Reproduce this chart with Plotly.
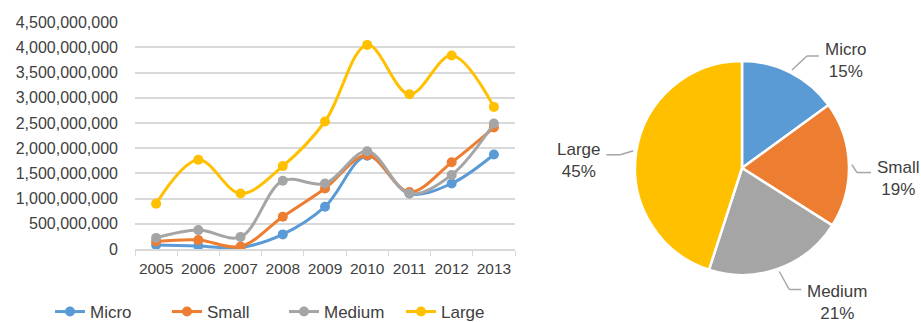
import math
import plotly.graph_objects as go

years = ["2005", "2006", "2007", "2008", "2009", "2010", "2011", "2012", "2013"]
micro = [80e6, 60e6, 30e6, 290e6, 840e6, 1850e6, 1100e6, 1300e6, 1875e6]
small = [150e6, 180e6, 50e6, 640e6, 1200e6, 1860e6, 1130e6, 1720e6, 2410e6]
medium = [220e6, 375e6, 240e6, 1355e6, 1300e6, 1940e6, 1100e6, 1470e6, 2490e6]
large = [900e6, 1770e6, 1100e6, 1645e6, 2530e6, 4050e6, 3070e6, 3840e6, 2820e6]
series_names = ["Micro", "Small", "Medium", "Large"]
pie_labels = ["Micro", "Small", "Medium", "Large"]
pie_share = [15, 19, 21, 45]
colors = ["#5B9BD5", "#ED7D31", "#A5A5A5", "#FFC000"]

W, H = 921, 322
FONT = "Liberation Sans, Arial, sans-serif"
TXT = "#404040"

# leader-line styling per pie label: (diagonal dx, diagonal dy, horizontal length, text dy)
LEADER = {"Micro": (15, -14, 12, 5), "Small": (5, 8, 14, 6),
          "Medium": (10, 18, 12, 13), "Large": (-13, 4, 14, 6)}

fig = go.Figure()
for name, vals, col in zip(series_names, [micro, small, medium, large], colors):
    fig.add_trace(go.Scatter(
        x=years, y=vals, name=name, mode="lines+markers",
        line=dict(color=col, width=3, shape="spline", smoothing=1.0),
        marker=dict(size=10, color=col),
    ))

# Pie geometry (pixels)
PCX, PCY, PR = 742, 168, 107
fig.add_trace(go.Pie(
    labels=pie_labels, values=pie_share, sort=False, direction="clockwise", rotation=0,
    marker=dict(colors=colors, line=dict(color="white", width=2.5)),
    textinfo="none", hoverinfo="label+percent", showlegend=False,
    domain=dict(x=[(PCX - PR) / W, (PCX + PR) / W], y=[1 - (PCY + PR) / H, 1 - (PCY - PR) / H]),
))

shapes = []
annotations = []
total = sum(pie_share)
cum = 0
for lab, v in zip(pie_labels, pie_share):
    a = math.radians((cum + v / 2) / total * 360)
    cum += v
    s, c = math.sin(a), math.cos(a)
    r1 = PR + 3
    x1, y1 = PCX + r1 * s, PCY - r1 * c
    ddx, ddy, hl, tdy = LEADER[lab]
    x2, y2 = x1 + ddx, y1 + ddy
    side = 1 if s > 0 else -1
    x3 = x2 + side * hl
    for (xa, ya, xb, yb) in [(x1, y1, x2, y2), (x2, y2, x3, y2)]:
        shapes.append(dict(type="line", xref="paper", yref="paper",
                           x0=xa / W, y0=1 - ya / H, x1=xb / W, y1=1 - yb / H,
                           line=dict(color="#A6A6A6", width=1.5)))
    pct = round(v / total * 100)
    annotations.append(dict(
        xref="paper", yref="paper", x=(x3 + side * 4) / W, y=1 - (y2 + tdy) / H,
        xanchor="left" if side > 0 else "right", yanchor="middle", align="center",
        text=f"{lab}<br>{pct}%", showarrow=False,
        font=dict(family=FONT, size=17, color=TXT),
    ))

fig.update_layout(
    width=W, height=H, margin=dict(l=0, r=0, t=0, b=0, autoexpand=False),
    paper_bgcolor="white", plot_bgcolor="white",
    font=dict(family=FONT, size=15, color=TXT),
    shapes=shapes, annotations=annotations,
    showlegend=True,
    legend=dict(orientation="h", x=50 / W, xanchor="left", y=1 - 312 / H, yanchor="middle",
                font=dict(family=FONT, size=17, color=TXT), bgcolor="rgba(0,0,0,0)",
                entrywidth=72, entrywidthmode="pixels"),
    xaxis=dict(domain=[135 / W, 515 / W], type="category", range=[-0.5, 8.5],
               showgrid=False, showline=True, linecolor="#D9D9D9", linewidth=1.5,
               ticks="outside", tickson="boundaries", ticklen=5, tickcolor="#D9D9D9",
               tickangle=0, ticklabelstandoff=5, tickfont=dict(size=15.5, color=TXT)),
    yaxis=dict(domain=[1 - 249 / H, 1 - 22 / H], range=[0, 4.5e9 * 1.001],
               dtick=5e8, tickformat=",", showgrid=True, gridcolor="#D9D9D9", gridwidth=1.5,
               zeroline=False, showline=False, ticks="", ticklabelstandoff=16,
               tickfont=dict(size=16, color=TXT)),
)

fig.write_html("out.html")
